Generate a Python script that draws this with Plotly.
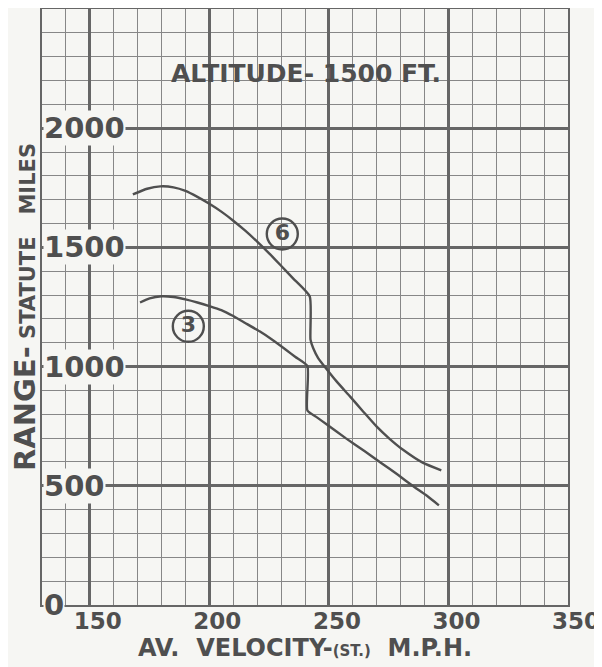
import plotly.graph_objects as go

# ---------------- data ----------------
CURVE6_X = [168, 174, 179.5, 185, 190, 195, 200, 205, 210, 215, 220, 225, 230, 235, 242,
            242.3, 243.4, 245.5, 249, 253.2, 258.8, 264.3, 269.9, 275.5, 281, 289.4, 297]
CURVE6_Y = [1722, 1746, 1756, 1752, 1737, 1712, 1683, 1650, 1612, 1570, 1524, 1475, 1423, 1370, 1294,
            1113, 1078, 1036, 990, 938, 875, 812, 749, 696, 651, 596, 565]

CURVE3_X = [171, 175, 180, 185, 190, 195, 200, 205, 210, 215, 221, 226, 232, 236, 241,
            241, 245, 249, 257, 265, 272, 279, 285, 291, 296]
CURVE3_Y = [1269, 1286, 1295, 1292, 1282, 1269, 1254, 1237, 1212, 1183, 1148, 1115, 1071, 1040, 1002,
            816, 787, 758, 700, 645, 595, 545, 500, 458, 418]

CURVE_NAMES = ["6", "3"]
LABEL_X = [230.5, 191.2]
LABEL_Y = [1556, 1169]

X_TICKS = [150, 200, 250, 300, 350]
Y_TICKS = [0, 500, 1000, 1500, 2000]

TITLE_TEXT = "ALTITUDE- 1500 FT."
TITLE_X = 240.4
TITLE_Y = 2229

# ---------------- style ----------------
PAPER = "#f6f6f3"
INK = "#4f4f4f"
MAJOR = "#666666"
MINOR = "#878787"
FONT = "DejaVu Sans"

fig = go.Figure()

for xs, ys in [(CURVE6_X, CURVE6_Y), (CURVE3_X, CURVE3_Y)]:
    fig.add_trace(go.Scatter(
        x=xs, y=ys, mode="lines",
        line=dict(color=INK, width=2.4, shape="spline", smoothing=0.5),
        hoverinfo="skip", showlegend=False,
    ))

fig.add_trace(go.Scatter(
    x=LABEL_X, y=LABEL_Y, mode="markers+text", text=CURVE_NAMES,
    textposition="middle center",
    textfont=dict(family=FONT, size=22, color=INK, weight="bold"),
    marker=dict(symbol="circle-open", size=31, color=INK, line=dict(width=2.4, color=INK)),
    hoverinfo="skip", showlegend=False,
))

fig.add_annotation(
    x=TITLE_X, y=TITLE_Y, xref="x", yref="y", text=TITLE_TEXT, showarrow=False,
    font=dict(family=FONT, size=25, color=INK, weight="bold"),
    xanchor="center", yanchor="middle",
)

for v in Y_TICKS:
    fig.add_annotation(
        x=0, xref="paper", y=v, yref="y", text=f"{v}", showarrow=False,
        xanchor="left", yanchor="middle", xshift=1,
        font=dict(family=FONT, size=29, color=INK, weight="bold"),
        bgcolor=PAPER, borderpad=0,
    )

fig.update_xaxes(
    range=[130, 350], tickmode="array", tickvals=X_TICKS,
    ticktext=[str(t) for t in X_TICKS],
    tickfont=dict(family=FONT, size=23, color=INK, weight="bold"),
    ticks="", ticklabelshift=8, ticklabelstandoff=-5,
    showgrid=True, gridcolor=MAJOR, gridwidth=2.6,
    minor=dict(dtick=10, tick0=0, showgrid=True, gridcolor=MINOR, gridwidth=1.2),
    showline=True, linecolor=MAJOR, linewidth=1.5, mirror=True,
    zeroline=False,
    title=dict(text="AV.  VELOCITY-<span style='font-size:15px'>(ST.)</span>  M.P.H.",
               font=dict(family=FONT, size=24, color=INK, weight="bold"), standoff=2),
)
fig.update_yaxes(
    range=[0, 2500], tick0=0, dtick=500, showticklabels=False, ticks="",
    showgrid=True, gridcolor=MAJOR, gridwidth=2.6,
    minor=dict(dtick=100, tick0=0, showgrid=True, gridcolor=MINOR, gridwidth=1.2),
    showline=True, linecolor=MAJOR, linewidth=1.5, mirror=True,
    zeroline=True, zerolinecolor=MAJOR, zerolinewidth=2.6,
    title=dict(text="RANGE-<span style='font-size:21px'> STATUTE   MILES</span>",
               font=dict(family=FONT, size=29, color=INK, weight="bold"), standoff=4),
)

fig.update_layout(
    width=594, height=659,
    margin=dict(l=34, r=34, t=1, b=62, autoexpand=False),
    paper_bgcolor=PAPER, plot_bgcolor=PAPER,
    showlegend=False,
)

fig.write_html("out.html")
